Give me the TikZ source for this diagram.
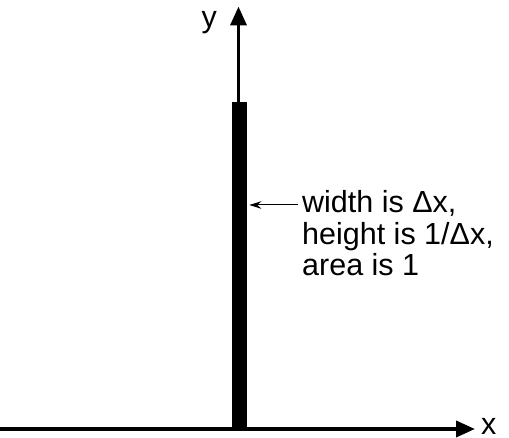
\documentclass[tikz,border=0pt]{standalone}
\usepackage{fontspec}
\setmainfont{Liberation Sans}
\usetikzlibrary{arrows.meta,positioning,calc}
\newcommand{\axisfont}{\fontsize{30.5}{31.5}\selectfont}

\begin{document}
\begin{tikzpicture}[x=1pt, y=-1pt,
    axisline/.style={line width=3.8pt, -{Triangle[length=19pt, width=16pt]}},
    pointer/.style={line width=1pt, -{Stealth[length=12pt, width=7.5pt]}},
    lbl/.style={inner sep=0pt, font=\axisfont}]
  \useasboundingbox (0,0) rectangle (509,438);
  \coordinate (o) at (238.5,429);
  \coordinate (xstart) at (0,429);
  \coordinate (xend) at (475,429);
  \coordinate (yend) at (238.5,6.5);
  \draw[axisline] (xstart) -- (xend);
  \draw[axisline] (o) -- (yend);
  \node[fill=black, inner sep=0pt, minimum width=14.5pt, minimum height=326.5pt,
        anchor=south] (bar) at (239.25,429) {};
  \node[lbl, anchor=base west] (xlabel) at (481,434.5) {x};
  \node[lbl, anchor=base east] (ylabel) at (217,28) {y};
  \node[lbl, anchor=base west, align=left] (note) at (302,276)
    {width is Δx,\\height is 1/Δx,\\area is 1};
  \coordinate (tail) at (298,205);
  \draw[pointer, shorten >=2.6pt] (tail) -- (bar.east |- tail);
\end{tikzpicture}
\end{document}
